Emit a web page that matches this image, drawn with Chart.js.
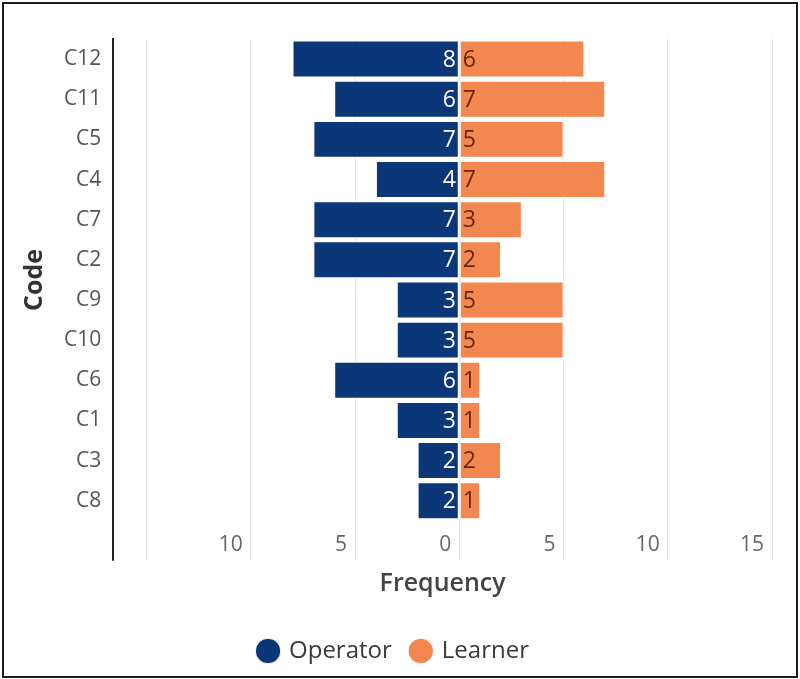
<!DOCTYPE html>
<html>
<head>
<meta charset="utf-8">
<script src="https://cdn.jsdelivr.net/npm/chart.js@4.4.1/dist/chart.umd.min.js"></script>
<style>
  html, body { margin: 0; padding: 0; background: #fff; }
  #frame { position: absolute; left: 2px; top: 2px; width: 796px; height: 676px; box-sizing: border-box; border: 2px solid #1a1a1a; background: #fff; }
  #wrap { position: absolute; left: 0; top: 0; width: 792px; height: 672px; }
</style>
</head>
<body>
<div id="frame"><div id="wrap"><canvas id="c"></canvas></div></div>
<script>
// ---- data ----
const categories = ["C12", "C11", "C5", "C4", "C7", "C2", "C9", "C10", "C6", "C1", "C3", "C8"];
const operatorValues = [8, 6, 7, 4, 7, 7, 3, 3, 6, 3, 2, 2];
const learnerValues  = [6, 7, 5, 7, 3, 2, 5, 5, 1, 1, 2, 1];
const xTickValues = [-15, -10, -5, 0, 5, 10, 15];
const xMin = -16.6;
const xMax = 15;

const FONT = "'Open Sans', 'DejaVu Sans', sans-serif";
const NAVY = '#0b3677';
const ORANGE = '#f2874f';

const barLabels = {
  id: 'barLabels',
  afterDatasetsDraw(chart) {
    const ctx = chart.ctx;
    ctx.save();
    ctx.font = '400 23px ' + FONT;
    ctx.textBaseline = 'middle';
    chart.data.datasets.forEach((ds, di) => {
      const meta = chart.getDatasetMeta(di);
      meta.data.forEach((el, i) => {
        const raw = ds.data[i];
        const txt = String(Math.abs(raw));
        if (raw < 0) {
          ctx.fillStyle = '#ffffff';
          ctx.textAlign = 'right';
          ctx.fillText(txt, el.base - 3, el.y + 1);
        } else {
          ctx.fillStyle = '#6b260c';
          ctx.textAlign = 'left';
          ctx.fillText(txt, el.base + 3, el.y + 1);
        }
      });
    });
    ctx.restore();
  }
};

new Chart(document.getElementById('c'), {
  type: 'bar',
  data: {
    labels: categories,
    datasets: [
      { label: 'Operator', data: operatorValues.map(v => -v), backgroundColor: NAVY, borderColor: '#ffffff', borderWidth: 1, borderSkipped: false, barPercentage: 0.92, categoryPercentage: 1 },
      { label: 'Learner', data: learnerValues, backgroundColor: ORANGE, borderColor: '#ffffff', borderWidth: 1, borderSkipped: false, barPercentage: 0.92, categoryPercentage: 1 }
    ]
  },
  options: {
    indexAxis: 'y',
    responsive: true,
    maintainAspectRatio: false,
    animation: false,
    layout: { padding: { top: 35, right: 24, left: 12, bottom: 3 } },
    scales: {
      x: {
        stacked: true,
        min: xMin,
        max: xMax,
        afterBuildTicks(scale) {
          scale.ticks = [{ value: xMin }].concat(xTickValues.map(v => ({ value: v })));
        },
        border: { display: false },
        grid: {
          color: c => (c.tick && c.tick.value === xMin) ? '#222222' : '#e6e6e6',
          lineWidth: c => (c.tick && c.tick.value === xMin) ? 2 : 1,
          drawTicks: true,
          tickLength: 40
        },
        ticks: {
          align: 'end',
          labelOffset: -8,
          padding: -28,
          maxRotation: 0,
          autoSkip: false,
          color: '#666666',
          font: { family: FONT, size: 21 },
          callback: (v) => (v === xMin || v === -15) ? '' : String(Math.abs(v))
        },
        title: {
          display: true,
          text: 'Frequency',
          color: '#444444',
          font: { family: FONT, size: 25, weight: '600' },
          padding: { top: 39, bottom: 20 }
        }
      },
      y: {
        stacked: true,
        border: { display: true, color: '#222222', width: 2 },
        grid: { display: false, drawTicks: false },
        ticks: {
          color: '#555555',
          padding: 12,
          font: { family: FONT, size: 21 }
        },
        title: {
          display: true,
          text: 'Code',
          color: '#333333',
          font: { family: FONT, size: 25, weight: '700' },
          padding: { top: 4, bottom: 2 }
        }
      }
    },
    plugins: {
      legend: {
        position: 'bottom',
        labels: {
          usePointStyle: true,
          pointStyle: 'circle',
          boxWidth: 18,
          boxHeight: 18,
          padding: 20,
          color: '#3a3a3a',
          font: { family: FONT, size: 24, weight: '500' }
        }
      },
      tooltip: { enabled: false }
    }
  },
  plugins: [barLabels]
});
</script>
</body>
</html>
